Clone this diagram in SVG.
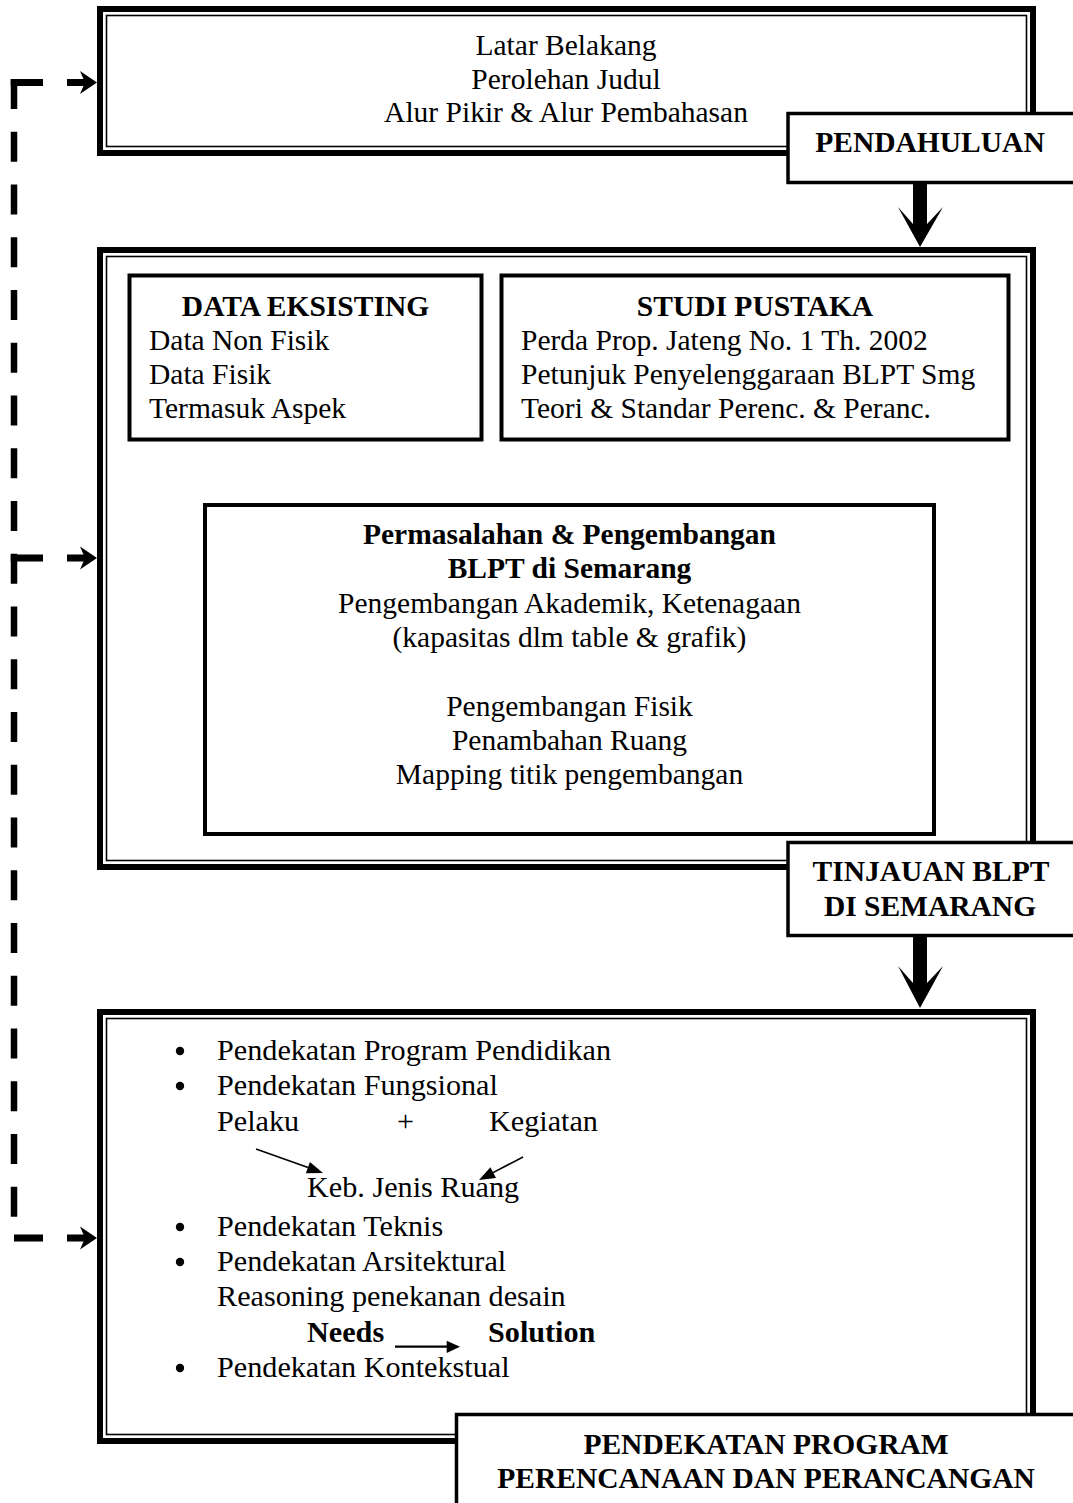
<svg xmlns="http://www.w3.org/2000/svg" width="1073" height="1503" viewBox="0 0 1073 1503">
<style>
text{font-family:"Liberation Serif","Times New Roman",serif;font-size:29.5px;fill:#000}
.b{font-weight:bold}
.m{text-anchor:middle}
.s{font-size:30.2px}
.thick{fill:none;stroke:#000;stroke-width:6}
.thin{fill:none;stroke:#000;stroke-width:1.6}
.box{fill:#fff;stroke:#000;stroke-width:4}
.lab{fill:#fff;stroke:#000;stroke-width:3.5}
.dash{fill:none;stroke:#000;stroke-width:7}
.ln{fill:none;stroke:#000;stroke-width:1.6}
</style>
<defs>
<polygon id="dh" points="0,0 -17,-11.5 -12,0 -17,11.5" fill="#000"/>
</defs>
<rect width="1073" height="1503" fill="#fff"/>

<g id="pendahuluan-area">
<rect class="thick" x="100" y="9" width="933" height="144"/>
<rect class="thin" x="106.5" y="15.5" width="920" height="131"/>
<text class="m" x="566" y="55">Latar Belakang</text>
<text class="m" x="566" y="88.5">Perolehan Judul</text>
<text class="m" x="566" y="122">Alur Pikir &amp; Alur Pembahasan</text>
</g>

<g id="tinjauan-area">
<rect class="thick" x="100" y="250" width="933" height="617"/>
<rect class="thin" x="106.5" y="256.5" width="920" height="604"/>
</g>

<g id="data-eksisting">
<rect class="box" x="129.5" y="275.5" width="352" height="164"/>
<text class="b m" x="305.5" y="315.5">DATA EKSISTING</text>
<text x="149" y="350">Data Non Fisik</text>
<text x="149" y="384">Data Fisik</text>
<text x="149" y="418">Termasuk Aspek</text>
</g>

<g id="studi-pustaka">
<rect class="box" x="501.5" y="275.5" width="507" height="164"/>
<text class="b m" x="755" y="315.5">STUDI PUSTAKA</text>
<text x="521" y="350">Perda Prop. Jateng No. 1 Th. 2002</text>
<text x="521" y="384">Petunjuk Penyelenggaraan BLPT Smg</text>
<text x="521" y="418">Teori &amp; Standar Perenc. &amp; Peranc.</text>
</g>

<g id="permasalahan">
<rect class="box" x="205" y="505" width="729" height="329"/>
<text class="b m" x="569.5" y="544">Permasalahan &amp; Pengembangan</text>
<text class="b m" x="569.5" y="578">BLPT di Semarang</text>
<text class="m" x="569.5" y="613">Pengembangan Akademik, Ketenagaan</text>
<text class="m" x="569.5" y="647">(kapasitas dlm table &amp; grafik)</text>
<text class="m" x="569.5" y="716">Pengembangan Fisik</text>
<text class="m" x="569.5" y="750">Penambahan Ruang</text>
<text class="m" x="569.5" y="784">Mapping titik pengembangan</text>
</g>

<g id="pendekatan-area">
<rect class="thick" x="100" y="1012" width="933" height="429"/>
<rect class="thin" x="106.5" y="1018.5" width="920" height="416"/>
<circle cx="180" cy="1051" r="4.2"/>
<text class="s" x="217" y="1060">Pendekatan Program Pendidikan</text>
<circle cx="180" cy="1086" r="4.2"/>
<text class="s" x="217" y="1095">Pendekatan Fungsional</text>
<text class="s" x="217" y="1131">Pelaku</text>
<text class="s m" x="405.5" y="1131">+</text>
<text class="s" x="489" y="1131">Kegiatan</text>
<line class="ln" x1="256" y1="1149" x2="308" y2="1167.6"/>
<polygon points="323,1173 305.9,1173.3 309.9,1162" fill="#000"/>
<line class="ln" x1="523" y1="1157" x2="493" y2="1172.6"/>
<polygon points="479,1180 490.4,1167.3 496,1177.9" fill="#000"/>
<text class="s" x="307" y="1197">Keb. Jenis Ruang</text>
<circle cx="180" cy="1227" r="4.2"/>
<text class="s" x="217" y="1236">Pendekatan Teknis</text>
<circle cx="180" cy="1262" r="4.2"/>
<text class="s" x="217" y="1271">Pendekatan Arsitektural</text>
<text class="s" x="217" y="1306">Reasoning penekanan desain</text>
<text class="b s" x="307" y="1342">Needs</text>
<line x1="395" y1="1346.7" x2="448" y2="1346.7" stroke="#000" stroke-width="2.2"/>
<polygon points="446.7,1340.7 460,1346.7 446.7,1353" fill="#000"/>
<text class="b s" x="488" y="1342">Solution</text>
<circle cx="180" cy="1368" r="4.2"/>
<text class="s" x="217" y="1377">Pendekatan Kontekstual</text>
</g>

<g id="label-pendahuluan">
<rect class="lab" x="788" y="113.5" width="300" height="69"/>
<text class="b m" x="930" y="152">PENDAHULUAN</text>
</g>

<g id="label-tinjauan">
<rect class="lab" x="788" y="842.5" width="300" height="93"/>
<text class="b m" x="931" y="881">TINJAUAN BLPT</text>
<text class="b m" x="930" y="915.5">DI SEMARANG</text>
</g>

<g id="label-pendekatan">
<rect class="lab" x="456.5" y="1414.5" width="700" height="200"/>
<text class="b m" x="766" y="1454">PENDEKATAN PROGRAM</text>
<text class="b m" x="766" y="1488">PERENCANAAN DAN PERANCANGAN</text>
</g>

<g id="connectors">
<polygon points="913,183 913,224 898,207 920,247 943,207 927,224 927,183" fill="#000"/>
<polygon points="913,937 913,983 898,966 920,1008 943,966 927,983 927,937" fill="#000"/>
<path d="M14,79 V1217" fill="none" stroke="#000" stroke-width="6.5" stroke-dasharray="30 22.75"/>
<path class="dash" d="M10.75,82.5 H43 M67,82.5 H86 M10.75,558 H43 M67,558 H86 M14,1238 H43 M67,1238 H86"/>
<use href="#dh" x="97" y="82.5"/>
<use href="#dh" x="97" y="558"/>
<use href="#dh" x="97" y="1238"/>
</g>
</svg>
